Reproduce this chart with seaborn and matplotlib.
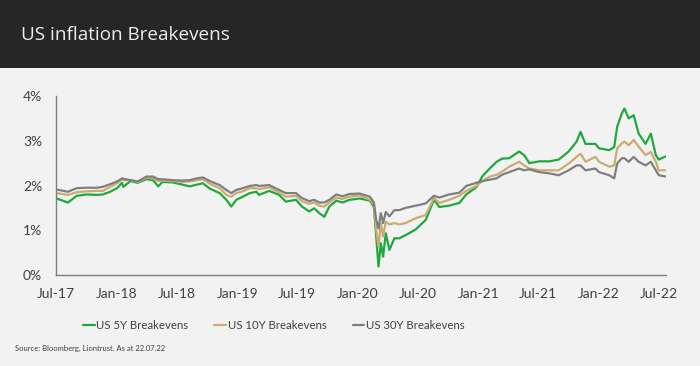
import pandas as pd
import matplotlib.pyplot as plt
import matplotlib.patches as mpatches
import seaborn as sns

# Tanggal pembacaan (perkiraan dari gambar)
dates = [
    "2017-07-03", "2017-08-06", "2017-09-02", "2017-10-02", "2017-11-02", "2017-11-20",
    "2017-12-12", "2018-01-02", "2018-01-17", "2018-01-21", "2018-02-12", "2018-03-05",
    "2018-04-01", "2018-04-21", "2018-05-07", "2018-05-19", "2018-06-19", "2018-07-19",
    "2018-08-10", "2018-09-01", "2018-09-19", "2018-10-10", "2018-11-09", "2018-11-29",
    "2018-12-14", "2018-12-29", "2019-01-18", "2019-02-08", "2019-02-28", "2019-03-08",
    "2019-04-08", "2019-05-08", "2019-05-28", "2019-06-28", "2019-07-16", "2019-08-07",
    "2019-08-22", "2019-09-07", "2019-09-22", "2019-10-07", "2019-10-28", "2019-11-16",
    "2019-12-07", "2020-01-07", "2020-02-07", "2020-02-19", "2020-02-26", "2020-03-04",
    "2020-03-11", "2020-03-18", "2020-03-26", "2020-04-06", "2020-04-21", "2020-05-06",
    "2020-05-25", "2020-06-25", "2020-07-25", "2020-08-19", "2020-09-04", "2020-10-04",
    "2020-11-04", "2020-11-25", "2020-12-25", "2021-01-13", "2021-02-04", "2021-02-25",
    "2021-03-13", "2021-04-04", "2021-05-04", "2021-05-19", "2021-06-04", "2021-07-04",
    "2021-08-04", "2021-09-01", "2021-10-01", "2021-10-25", "2021-11-06", "2021-11-21",
    "2021-12-21", "2022-01-01", "2022-02-01", "2022-02-16", "2022-02-25", "2022-03-11",
    "2022-03-19", "2022-04-01", "2022-04-16", "2022-05-01", "2022-05-22", "2022-06-07",
    "2022-06-22", "2022-07-01", "2022-07-22",
]

be_5y = [
    1.71, 1.62, 1.77, 1.80, 1.79, 1.80, 1.86, 1.94, 2.06, 1.97, 2.10, 2.06,
    2.14, 2.12, 1.98, 2.08, 2.07, 2.02, 1.98, 2.02, 2.05, 1.93, 1.83, 1.68,
    1.53, 1.68, 1.75, 1.83, 1.86, 1.79, 1.88, 1.79, 1.64, 1.68, 1.53, 1.42,
    1.49, 1.38, 1.30, 1.53, 1.66, 1.62, 1.68, 1.71, 1.66, 1.52, 0.86, 0.19,
    0.71, 0.41, 0.93, 0.56, 0.82, 0.82, 0.89, 1.02, 1.23, 1.68, 1.52, 1.55,
    1.61, 1.80, 1.96, 2.21, 2.38, 2.53, 2.60, 2.61, 2.76, 2.68, 2.50, 2.54,
    2.54, 2.58, 2.76, 2.98, 3.20, 2.93, 2.93, 2.83, 2.79, 2.86, 3.31, 3.61,
    3.72, 3.50, 3.57, 3.16, 2.93, 3.16, 2.68, 2.58, 2.65,
]

be_10y = [
    1.83, 1.79, 1.85, 1.87, 1.88, 1.88, 1.97, 2.05, 2.14, 2.12, 2.12, 2.08,
    2.17, 2.16, 2.10, 2.11, 2.10, 2.08, 2.09, 2.12, 2.14, 2.04, 1.94, 1.79,
    1.75, 1.83, 1.87, 1.94, 1.94, 1.92, 1.96, 1.84, 1.75, 1.77, 1.65, 1.59,
    1.62, 1.55, 1.53, 1.62, 1.73, 1.70, 1.75, 1.78, 1.68, 1.58, 1.00, 0.63,
    1.16, 0.86, 1.19, 1.13, 1.16, 1.13, 1.16, 1.27, 1.34, 1.72, 1.61, 1.68,
    1.77, 1.88, 1.99, 2.10, 2.20, 2.24, 2.31, 2.42, 2.53, 2.45, 2.38, 2.34,
    2.34, 2.34, 2.49, 2.64, 2.71, 2.53, 2.64, 2.53, 2.42, 2.45, 2.83, 2.94,
    2.98, 2.90, 3.02, 2.87, 2.68, 2.75, 2.53, 2.34, 2.34,
]

be_30y = [
    1.91, 1.86, 1.94, 1.95, 1.95, 1.97, 2.03, 2.09, 2.16, 2.15, 2.12, 2.09,
    2.20, 2.20, 2.14, 2.14, 2.12, 2.11, 2.12, 2.16, 2.18, 2.10, 2.01, 1.90,
    1.83, 1.90, 1.94, 1.99, 2.01, 1.99, 2.01, 1.90, 1.83, 1.83, 1.72, 1.65,
    1.68, 1.62, 1.62, 1.68, 1.80, 1.76, 1.81, 1.82, 1.75, 1.62, 1.23, 1.04,
    1.38, 1.16, 1.41, 1.31, 1.45, 1.45, 1.50, 1.55, 1.60, 1.77, 1.73, 1.80,
    1.84, 1.99, 2.06, 2.10, 2.13, 2.16, 2.24, 2.30, 2.38, 2.34, 2.36, 2.30,
    2.27, 2.23, 2.34, 2.45, 2.45, 2.34, 2.38, 2.30, 2.23, 2.16, 2.49, 2.61,
    2.61, 2.53, 2.64, 2.53, 2.45, 2.53, 2.34, 2.23, 2.20,
]

series_names = ["US 5Y Breakevens", "US 10Y Breakevens", "US 30Y Breakevens"]
tick_labels = ["Jul-17", "Jan-18", "Jul-18", "Jan-19", "Jul-19", "Jan-20",
               "Jul-20", "Jan-21", "Jul-21", "Jan-22", "Jul-22"]
tick_dates = ["2017-07-01", "2018-01-01", "2018-07-01", "2019-01-01", "2019-07-01",
              "2020-01-01", "2020-07-01", "2021-01-01", "2021-07-01", "2022-01-01",
              "2022-07-01"]

# Susun data long-form untuk seaborn
df = pd.DataFrame({"tanggal": pd.to_datetime(dates), series_names[0]: be_5y,
                   series_names[1]: be_10y, series_names[2]: be_30y})
df_long = df.melt(id_vars="tanggal", var_name="seri", value_name="nilai")

sns.set_style("white")
plt.rcParams["font.family"] = ["Lato", "DejaVu Sans"]

bg = "#f2f2f2"
fig = plt.figure(figsize=(7, 3.66), dpi=100, facecolor=bg)

# Pita judul gelap
fig.patches.append(mpatches.Rectangle((0, 0.814), 1, 0.186, transform=fig.transFigure,
                                      facecolor="#262626", edgecolor="none", zorder=0))
fig.text(0.03, 0.905, "US inflation Breakevens", color="#ececec", fontsize=13.6,
         family="Open Sans", va="center", ha="left")

ax = fig.add_axes([0.08, 0.2486, 0.871, 0.4891])
ax.set_facecolor(bg)

palette = {series_names[0]: "#1fa83f", series_names[1]: "#c9ad70", series_names[2]: "#7f7f7f"}
sns.lineplot(data=df_long, x="tanggal", y="nilai", hue="seri", palette=palette,
             linewidth=1.6, ax=ax, legend=True, hue_order=series_names)

ax.set_ylim(0, 4)
ax.set_xlim(pd.Timestamp("2017-07-01"), pd.Timestamp("2022-07-22"))
ax.set_yticks([0, 1, 2, 3, 4])
ax.set_yticklabels(["0%", "1%", "2%", "3%", "4%"])
ax.set_xticks(pd.to_datetime(tick_dates))
ax.set_xticklabels(tick_labels)
ax.set_xlabel("")
ax.set_ylabel("")

for s in ["top", "right"]:
    ax.spines[s].set_visible(False)
for s in ["left", "bottom"]:
    ax.spines[s].set_color("#7f7f7f")
    ax.spines[s].set_linewidth(1.0)
ax.tick_params(axis="both", direction="out", length=4, width=1.0, color="#7f7f7f",
               labelsize=10, labelcolor="#404040", pad=6)
ax.tick_params(axis="x", pad=5)

leg = ax.legend(loc="center", bbox_to_anchor=(0.357, -0.28), ncol=3, frameon=False,
                fontsize=8.2, handlelength=1.05, handletextpad=0.1, columnspacing=2.3,
                labelcolor="#404040")
for h in leg.get_lines():
    h.set_linewidth(1.6)

fig.text(0.021, 0.049, "Source: Bloomberg, Liontrust. As at 22.07.22", fontsize=5.5,
         color="#404040", ha="left", va="center")

fig.savefig("out.png", dpi=100, facecolor=bg)
